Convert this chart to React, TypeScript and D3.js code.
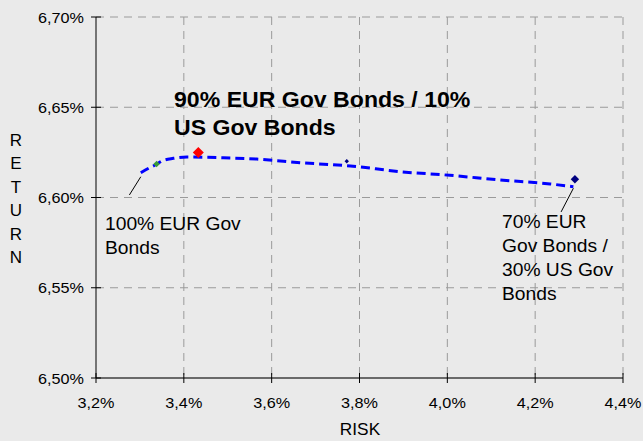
import React from "react";
import * as d3 from "d3";

const riskTicks = [3.2, 3.4, 3.6, 3.8, 4.0, 4.2, 4.4];
const returnTicks = [6.5, 6.55, 6.6, 6.65, 6.7];

const frontierRisk = [3.302, 3.323, 3.338, 3.35, 3.376, 3.407, 3.49, 3.566, 3.627, 3.665, 3.779, 3.893, 4.006, 4.12, 4.234, 4.287];
const frontierReturn = [6.6137, 6.6166, 6.6184, 6.6202, 6.6217, 6.6224, 6.622, 6.6213, 6.6201, 6.6193, 6.6175, 6.6143, 6.6123, 6.6097, 6.6075, 6.606];

const pointRisk = [3.338, 3.433, 3.771, 4.2905];
const pointReturn = [6.6186, 6.625, 6.6201, 6.6101];
const pointColor = ["#3a9a3a", "#ff0000", "#000080", "#000080"];
const pointSize = [3.2, 5.5, 2.2, 4.2];

const leader100Risk = [3.276, 3.302];
const leader100Return = [6.6014, 6.6115];
const leader70Risk = [4.287, 4.259];
const leader70Return = [6.6051, 6.592];

const titleLines = ["90% EUR Gov Bonds / 10%", "US Gov Bonds"];
const label100 = ["100% EUR Gov", "Bonds"];
const label70 = ["70% EUR", "Gov Bonds /", "30% US Gov", "Bonds"];
const yTitle = "RETURN".split("");
const xTitle = "RISK";

const W = 643, H = 441;
const M = { left: 96, right: 623, top: 17, bottom: 378 };
const FONT = "'Liberation Sans', Arial, sans-serif";

const fmtX = (v: number) => v.toFixed(1).replace(".", ",") + "%";
const fmtY = (v: number) => v.toFixed(2).replace(".", ",") + "%";

function T({ x, y, size, sx = 1.08, anchor = "start", weight = "normal", children }: any) {
  return (
    <text
      transform={`translate(${x},${y}) scale(${sx},1)`}
      fontSize={size}
      fontFamily={FONT}
      fontWeight={weight}
      textAnchor={anchor}
      fill="#000"
    >
      {children}
    </text>
  );
}

export default function App() {
  const x = d3.scaleLinear().domain([3.2, 4.4]).range([M.left, M.right]);
  const y = d3.scaleLinear().domain([6.5, 6.7]).range([M.bottom, M.top]);

  const line = d3
    .line<number>()
    .x((_, i) => x(frontierRisk[i]))
    .y((_, i) => y(frontierReturn[i]))
    .curve(d3.curveMonotoneX);

  const diamond = (cx: number, cy: number, r: number) =>
    `M${cx},${cy - r}L${cx + r},${cy}L${cx},${cy + r}L${cx - r},${cy}Z`;

  return (
    <svg
      width={W}
      height={H}
      style={{ position: "absolute", left: 0, top: 0, display: "block" }}
    >
      <rect x={0} y={0} width={W} height={H} fill="#eaeaea" />
      {/* grid */}
      {riskTicks.slice(1).map((t) => (
        <line key={"gx" + t} x1={x(t)} x2={x(t)} y1={M.top} y2={M.bottom} stroke="#9a9a9a" strokeWidth={1} strokeDasharray="8,6" />
      ))}
      {returnTicks.slice(1).map((t) => (
        <line key={"gy" + t} x1={M.left} x2={M.right} y1={y(t)} y2={y(t)} stroke="#9a9a9a" strokeWidth={1} strokeDasharray="8,6" />
      ))}
      {/* axes */}
      <line x1={M.left} x2={M.right} y1={M.bottom} y2={M.bottom} stroke="#6a6a6a" strokeWidth={2} />
      <line x1={M.left} x2={M.left} y1={M.top} y2={M.bottom} stroke="#000" strokeWidth={1} />
      {riskTicks.map((t) => (
        <g key={"tx" + t}>
          <line x1={x(t)} x2={x(t)} y1={M.bottom - 5} y2={M.bottom + 5} stroke="#000" strokeWidth={1} />
          <T x={x(t)} y={408} size={15} anchor="middle">{fmtX(t)}</T>
        </g>
      ))}
      {returnTicks.map((t) => (
        <g key={"ty" + t}>
          <line x1={M.left - 5} x2={M.left + 5} y1={y(t)} y2={y(t)} stroke="#000" strokeWidth={1} />
          <T x={84} y={y(t) + 5.5} size={15} anchor="end">{fmtY(t)}</T>
        </g>
      ))}
      {/* axis titles */}
      {yTitle.map((c, i) => (
        <T key={"yt" + i} x={16} y={140 + i * 23.4 + 6} size={17} anchor="middle" sx={1}>{c}</T>
      ))}
      <T x={360} y={435} size={16} anchor="middle">{xTitle}</T>
      {/* frontier */}
      <path d={line(frontierRisk) || ""} fill="none" stroke="#0000ff" strokeWidth={3} strokeDasharray="9,5" />
      {/* leader lines */}
      <line x1={x(leader100Risk[0])} y1={y(leader100Return[0])} x2={x(leader100Risk[1])} y2={y(leader100Return[1])} stroke="#000" strokeWidth={1} />
      <line x1={x(leader70Risk[0])} y1={y(leader70Return[0])} x2={x(leader70Risk[1])} y2={y(leader70Return[1])} stroke="#000" strokeWidth={1} />
      {/* points */}
      {pointRisk.map((r, i) => (
        <path key={"p" + i} d={diamond(x(r), y(pointReturn[i]), pointSize[i])} fill={pointColor[i]} />
      ))}
      {/* labels */}
      {titleLines.map((s, i) => (
        <T key={"tl" + i} x={174} y={107.3 + i * 27.7} size={22} weight="bold" sx={1.05}>{s}</T>
      ))}
      {label100.map((s, i) => (
        <T key={"l1" + i} x={105} y={230 + i * 23.5} size={17.5} sx={1.1}>{s}</T>
      ))}
      {label70.map((s, i) => (
        <T key={"l7" + i} x={502} y={228.3 + i * 23.9} size={17.5} sx={1.1}>{s}</T>
      ))}
    </svg>
  );
}
